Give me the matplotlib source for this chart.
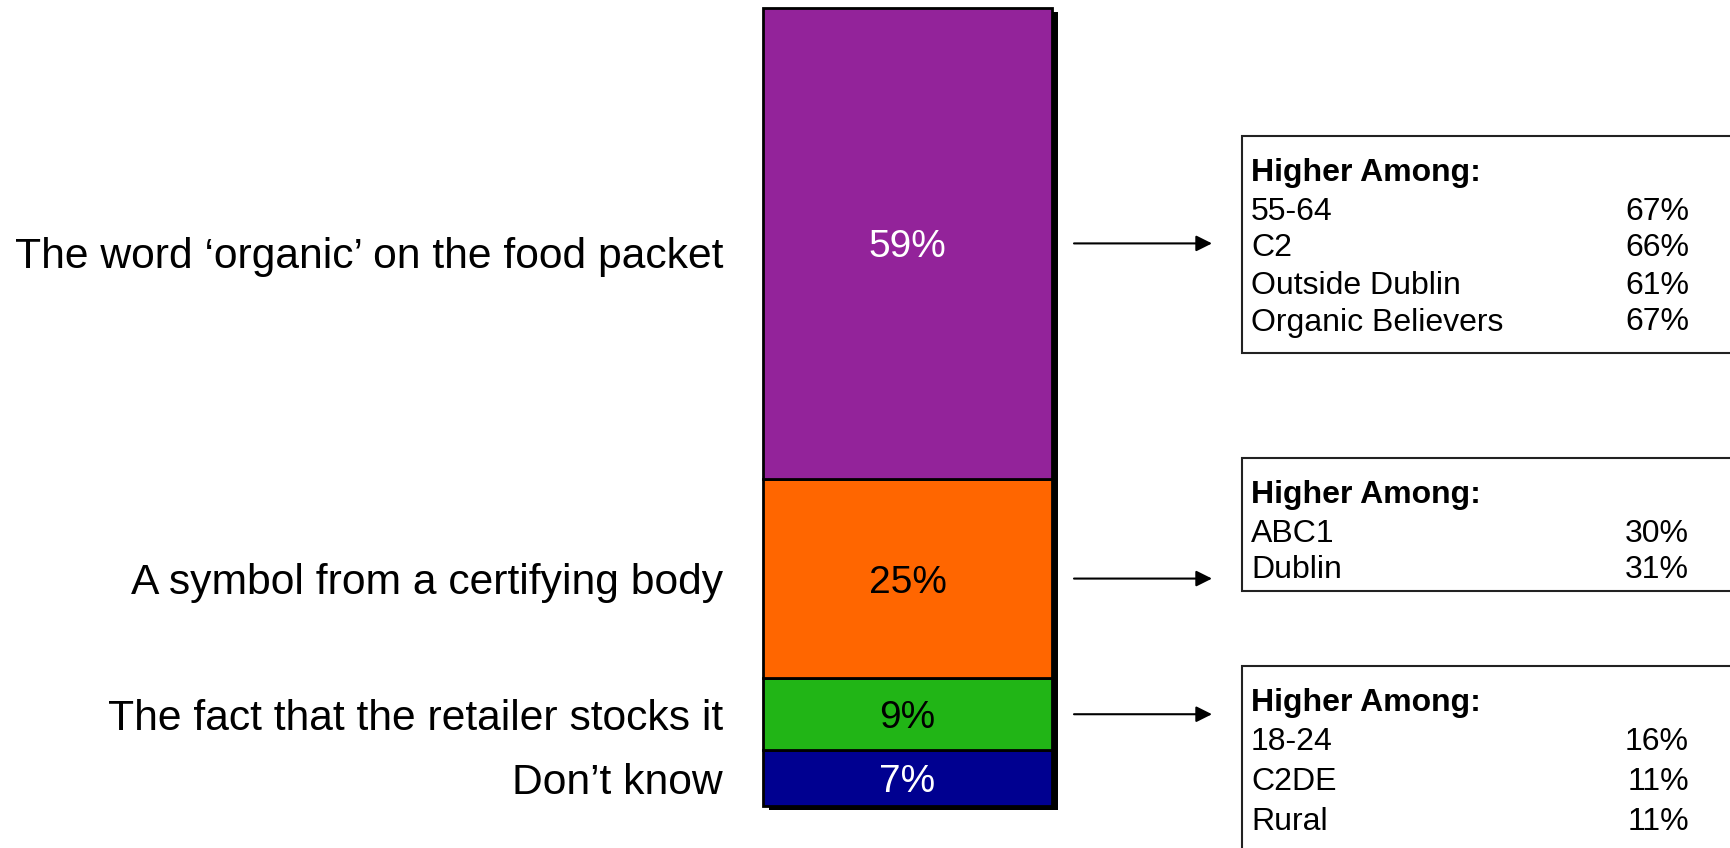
import matplotlib
matplotlib.use('Agg')
import matplotlib.pyplot as plt
from matplotlib.patches import Rectangle
from matplotlib.transforms import blended_transform_factory, ScaledTranslation

plt.rcParams['font.family'] = ['Liberation Sans', 'DejaVu Sans']

# stacked bar, bottom segment first
categories = ["Don\u2019t know",
              "The fact that the retailer stocks it",
              "A symbol from a certifying body",
              "The word \u2018organic\u2019 on the food packet"]
shares = [7, 9, 25, 59]
colors = ['#000090', '#21B516', '#FF6600', '#93239A']
value_colors = ['white', 'black', 'black', 'white']

# "Higher Among" call-outs, top to bottom (top three segments)
groups_word = ['55-64', 'C2', 'Outside Dublin', 'Organic Believers']
values_word = [67, 66, 61, 67]
groups_symbol = ['ABC1', 'Dublin']
values_symbol = [30, 31]
groups_retailer = ['18-24', 'C2DE', 'Rural']
values_retailer = [16, 11, 11]

W, H = 1731, 848
fig = plt.figure(figsize=(W / 100, H / 100), dpi=100)

# overlay in pixel units for the call-out boxes
ov = fig.add_axes([0, 0, 1, 1])
ov.set_xlim(0, W)
ov.set_ylim(H, 0)
ov.axis('off')

bl, br, bt, bb = 763, 1052, 8, 806
ax = fig.add_axes([bl / W, 1 - bb / H, (br - bl) / W, (bb - bt) / H])
ax.set_xlim(-0.5, 0.5)
ax.set_ylim(0, sum(shares))
ax.axis('off')

# drop shadow behind the bar
shadow = Rectangle((0, 0), 1, 1, transform=ax.transAxes + ScaledTranslation(0.06, -0.035, fig.dpi_scale_trans),
                   facecolor='black', edgecolor='none', zorder=0, clip_on=False)
ax.add_patch(shadow)

# top label sits a little below its segment centre
label_nudge = [0, 0, 0, -9]

bottom = 0
centers = []
for cat, v, c, tc, dy in zip(categories, shares, colors, value_colors, label_nudge):
    ax.bar(0, v, bottom=bottom, width=1.0, color=c, edgecolor='black', linewidth=2, zorder=2, clip_on=False)
    yc = bottom + v / 2
    centers.append(yc)
    ax.text(0, yc, f'{v}%', ha='center', va='center_baseline', fontsize=28, color=tc, zorder=3)
    ax.annotate(cat, xy=(0, yc), xycoords=('axes fraction', 'data'),
                xytext=(-40, dy), textcoords='offset pixels',
                ha='right', va='center_baseline', fontsize=30.7, color='black')
    bottom += v

# arrows from the bar to the boxes
trans = blended_transform_factory(ov.transData, ax.transData)
for yc in centers[1:]:
    ax.annotate('', xy=(1212, yc), xycoords=trans, xytext=(1074, yc), textcoords=trans,
                arrowprops=dict(arrowstyle='-|>', color='black', lw=1.5, mutation_scale=24,
                                shrinkA=0, shrinkB=0))

box_left = 1242
box_tops = [136, 458, 666]
box_bottoms = [353, 591, 880]
row_gaps = [37, 37, 40]
box_groups = [groups_word, groups_symbol, groups_retailer]
box_values = [values_word, values_symbol, values_retailer]

for top, bot, gap, grp, vals in zip(box_tops, box_bottoms, row_gaps, box_groups, box_values):
    ov.add_patch(Rectangle((box_left, top), W + 20 - box_left, bot - top,
                           facecolor='white', edgecolor='#222222', linewidth=1.5))
    y = top + 33
    ov.text(box_left + 9, y, 'Higher Among:', fontsize=23, fontweight='bold',
            va='center_baseline', ha='left')
    y += 39
    for g, v in zip(grp, vals):
        ov.text(box_left + 9, y, g, fontsize=23, va='center_baseline', ha='left')
        ov.text(1689, y, f'{v}%', fontsize=23, va='center_baseline', ha='right')
        y += gap

fig.savefig('out.png', dpi=100, facecolor='white')
